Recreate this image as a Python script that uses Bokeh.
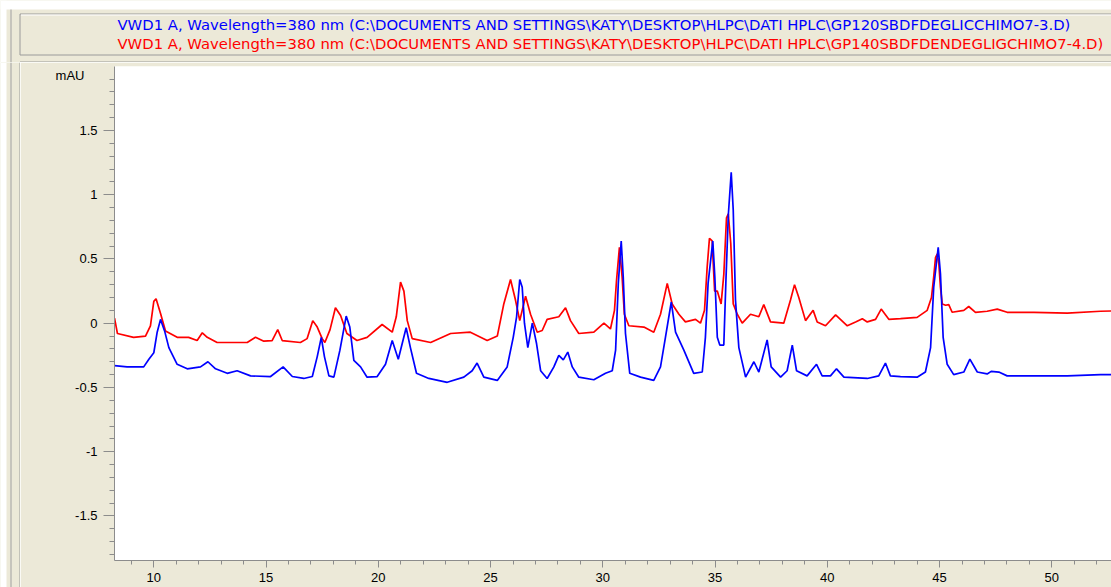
from bokeh.plotting import figure
from bokeh.layouts import column, row
from bokeh.models import FixedTicker, CustomJSTickFormatter, LinearAxis, Range1d
from bokeh.core.properties import value
from bokeh.embed import file_html
from bokeh.resources import INLINE

# ---- data (retention time in min, signal in mAU) ----
red_t = [8.25, 8.38, 9.1, 9.63, 9.85, 10.0, 10.1, 10.3, 10.52, 11.04, 11.55, 11.93, 12.16, 12.38, 12.82,
         13.56, 14.16, 14.53, 14.9, 15.27, 15.52, 15.72, 16.53, 16.83, 17.08, 17.28, 17.5, 17.62, 17.85,
         18.09, 18.32, 18.6, 19.05, 19.5, 20.17, 20.62, 20.8, 20.99, 21.14, 21.29, 21.51, 22.33, 23.22,
         24.1, 24.85, 25.3, 25.59, 25.89, 26.11, 26.3, 26.56, 26.78, 27.08, 27.3, 27.52, 28.04, 28.34,
         28.56, 28.93, 29.6, 30.05, 30.34, 30.52, 30.61, 30.74, 30.86, 30.96, 31.16, 31.83, 32.27, 32.57,
         32.87, 33.09, 33.39, 33.68, 34.13, 34.35, 34.53, 34.65, 34.75, 34.87, 34.98, 35.1, 35.27, 35.39,
         35.51, 35.59, 35.7, 35.81, 35.99, 36.21, 36.58, 36.95, 37.17, 37.47, 38.06, 38.36, 38.54, 38.73,
         39.03, 39.37, 39.55, 39.92, 40.37, 40.89, 41.26, 41.56, 41.78, 42.15, 42.4, 42.74, 43.26, 44.0,
         44.45, 44.64, 44.74, 44.82, 44.9, 44.97, 45.04, 45.12, 45.27, 45.41, 45.56, 46.08, 46.3, 46.6,
         47.12, 47.57, 48.01, 49.2, 50.69, 52.17, 52.66]
red_y = [0.04, -0.08, -0.11, -0.10, -0.02, 0.17, 0.19, 0.075, -0.06, -0.11, -0.11, -0.135, -0.075, -0.11, -0.15,
         -0.15, -0.15, -0.11, -0.14, -0.135, -0.05, -0.135, -0.15, -0.12, 0.02, -0.03, -0.12, -0.15, -0.05,
         0.12, 0.06, -0.08, -0.135, -0.11, -0.01, -0.07, 0.05, 0.32, 0.25, 0.02, -0.12, -0.15, -0.08,
         -0.07, -0.135, -0.10, 0.15, 0.34, 0.18, 0.02, 0.21, 0.07, -0.07, -0.057, 0.03, 0.05, 0.12,
         0.02, -0.08, -0.07, 0.0, -0.045, 0.10, 0.33, 0.59, 0.36, 0.07, -0.02, -0.03, -0.07, 0.07,
         0.31, 0.15, 0.07, 0.01, 0.03, 0.0, 0.10, 0.44, 0.66, 0.64, 0.25, 0.25, 0.15, 0.38,
         0.82, 0.85, 0.62, 0.15, 0.07, 0.0, 0.07, 0.05, 0.145, 0.01, 0.0, 0.18, 0.30, 0.20,
         0.02, 0.10, 0.01, -0.02, 0.065, -0.02, 0.01, 0.035, 0.01, 0.03, 0.11, 0.03, 0.035, 0.045,
         0.10, 0.20, 0.36, 0.51, 0.54, 0.46, 0.28, 0.15, 0.14, 0.145, 0.085, 0.10, 0.13, 0.085,
         0.093, 0.11, 0.085, 0.085, 0.078, 0.093, 0.095]

blue_t = [8.25, 8.81, 9.55, 9.78, 10.0, 10.15, 10.3, 10.48, 10.67, 11.04, 11.49, 12.08, 12.41, 12.75, 13.27,
          13.71, 14.31, 15.2, 15.76, 16.17, 16.68, 17.06, 17.28, 17.46, 17.6, 17.8, 18.02, 18.29, 18.57,
          18.73, 18.91, 19.21, 19.5, 19.95, 20.32, 20.62, 20.89, 21.24, 21.43, 21.7, 22.25, 23.07, 23.81,
          24.18, 24.4, 24.7, 25.3, 25.74, 26.01, 26.16, 26.3, 26.41, 26.51, 26.66, 26.86, 27.05, 27.23,
          27.52, 27.82, 28.04, 28.24, 28.44, 28.64, 28.93, 29.6, 30.12, 30.42, 30.57, 30.69, 30.82, 30.91,
          31.01, 31.2, 31.68, 32.27, 32.57, 32.79, 33.05, 33.24, 33.61, 34.05, 34.43, 34.57, 34.69, 34.9,
          34.99, 35.1, 35.21, 35.39, 35.48, 35.59, 35.72, 35.81, 35.91, 36.06, 36.36, 36.73, 36.95, 37.32,
          37.5, 37.92, 38.21, 38.44, 38.63, 39.1, 39.52, 39.77, 40.14, 40.41, 40.74, 41.78, 42.29, 42.59,
          42.81, 43.26, 44.0, 44.37, 44.6, 44.74, 44.94, 45.04, 45.16, 45.34, 45.63, 46.08, 46.35, 46.68,
          47.12, 47.3, 47.64, 48.01, 49.2, 50.69, 52.17, 52.66]
blue_y = [-0.33, -0.34, -0.34, -0.28, -0.23, -0.07, 0.03, -0.06, -0.19, -0.32, -0.355, -0.34, -0.30, -0.355, -0.39,
          -0.37, -0.41, -0.415, -0.34, -0.415, -0.43, -0.415, -0.26, -0.11, -0.26, -0.41, -0.42, -0.21, 0.055,
          -0.03, -0.29, -0.34, -0.42, -0.415, -0.32, -0.135, -0.28, -0.035, -0.19, -0.39, -0.43, -0.46, -0.42,
          -0.37, -0.31, -0.42, -0.445, -0.34, -0.11, 0.05, 0.34, 0.28, 0.0, -0.19, 0.0, -0.16, -0.37,
          -0.43, -0.34, -0.25, -0.285, -0.225, -0.34, -0.42, -0.44, -0.39, -0.37, -0.21, 0.31, 0.64, 0.36,
          -0.08, -0.39, -0.42, -0.445, -0.34, -0.11, 0.165, -0.07, -0.21, -0.39, -0.38, -0.11, 0.31, 0.64,
          0.36, -0.11, -0.17, -0.17, 0.31, 0.84, 1.175, 0.88, 0.18, -0.19, -0.42, -0.30, -0.38, -0.13,
          -0.34, -0.42, -0.37, -0.17, -0.37, -0.41, -0.32, -0.41, -0.41, -0.355, -0.42, -0.43, -0.41, -0.31,
          -0.41, -0.415, -0.42, -0.38, -0.19, 0.28, 0.59, 0.385, -0.11, -0.32, -0.40, -0.38, -0.28, -0.38,
          -0.395, -0.375, -0.38, -0.41, -0.41, -0.41, -0.40, -0.40]

x_major_ticks = [10, 15, 20, 25, 30, 35, 40, 45, 50]
x_minor_ticks = [9, 11, 12, 13, 14, 16, 17, 18, 19, 21, 22, 23, 24, 26, 27, 28, 29, 31, 32, 33, 34,
                 36, 37, 38, 39, 41, 42, 43, 44, 46, 47, 48, 49, 51, 52]
y_major_ticks = [-1.5, -1.0, -0.5, 0.0, 0.5, 1.0, 1.5, 2.0]
y_minor_ticks = [-1.8, -1.7, -1.6, -1.4, -1.3, -1.2, -1.1, -0.9, -0.8, -0.7, -0.6, -0.4, -0.3, -0.2, -0.1,
                 0.1, 0.2, 0.3, 0.4, 0.6, 0.7, 0.8, 0.9, 1.1, 1.2, 1.3, 1.4, 1.6, 1.7, 1.8, 1.9]
y_unit = "mAU"
legend_texts = ["VWD1 A, Wavelength=380 nm (C:\\DOCUMENTS AND SETTINGS\\KATY\\DESKTOP\\HLPC\\DATI HPLC\\GP120SBDFDEGLICCHIMO7-3.D)",
                "VWD1 A, Wavelength=380 nm (C:\\DOCUMENTS AND SETTINGS\\KATY\\DESKTOP\\HLPC\\DATI HPLC\\GP140SBDFDENDEGLIGCHIMO7-4.D)"]
legend_colors = ["#0000FF", "#FF0000"]

BEIGE = "#ECE9D8"
GRAY = "#9A9A9A"
FONT = "Liberation Sans"
HEAD_FONT = "DejaVu Sans"
W = 1111
HH = 62            # header strip height
MH = 587 - HH      # main chart height
SW = 20            # left chrome strip width


def no_align(fig):
    try:
        fig.frame_align = False
    except Exception:
        pass


def chrome(fig):
    fig.title.visible = False
    fig.outline_line_color = None
    fig.background_fill_color = BEIGE
    fig.border_fill_color = BEIGE
    fig.xgrid.visible = False
    fig.ygrid.visible = False
    no_align(fig)


# ---------------- header strip (pixel coordinates, y downwards) ----------------
h = figure(width=W, height=HH, output_backend="svg", toolbar_location=None,
           x_range=Range1d(0, W), y_range=Range1d(HH, 0), x_axis_type=None, y_axis_type=None,
           min_border_left=0, min_border_right=0, min_border_top=0, min_border_bottom=0)
chrome(h)
h.quad(left=[0, 0], right=[W, 6], top=[0, 0], bottom=[9, HH], fill_color="white", line_alpha=0)
h.quad(left=[10], right=[11], top=[9], bottom=[HH], fill_color="#A0A0A0", line_alpha=0)
h.segment(x0=[19.5, 19.5, 19.5, 20.5, 19.5, 19.5], y0=[13.5, 13.5, 54.5, 14.5, 61.5, 61.5],
          x1=[W, 19.5, W, W, W, 19.5], y1=[13.5, 54.5, 54.5, 14.5, 61.5, HH],
          line_color=[GRAY, GRAY, GRAY, "white", GRAY, GRAY], line_width=1)
h.text(x=[117, 117], y=[24, 43], text=legend_texts, text_color=legend_colors,
       text_font=value(HEAD_FONT), text_font_size="14.8px", text_baseline="middle", text_align="left")

# ---------------- left chrome strip ----------------
s = figure(width=SW, height=MH, output_backend="svg", toolbar_location=None,
           x_range=Range1d(0, SW), y_range=Range1d(MH, 0), x_axis_type=None, y_axis_type=None,
           min_border_left=0, min_border_right=0, min_border_top=0, min_border_bottom=0)
chrome(s)
s.quad(left=[0, 10], right=[6, 11], top=[0, 0], bottom=[MH, MH],
       fill_color=["white", "#A0A0A0"], line_alpha=0)
s.segment(x0=[19.5], y0=[0], x1=[19.5], y1=[MH], line_color=GRAY, line_width=1)

# ---------------- main chart ----------------
FL, FT, FR, FB = 114 - SW, 66 - HH, W - SW, 560 - HH
X0, X1, Y0, Y1 = 8.249, 52.659, -1.8467, 1.9977
unit_pos = Y1 - (75 - 66) * (Y1 - Y0) / (560 - 66)

p = figure(width=W - SW, height=MH, output_backend="svg", toolbar_location=None,
           x_range=Range1d(X0, X1), y_range=Range1d(Y0, Y1),
           min_border_left=FL, min_border_top=FT, min_border_bottom=MH - FB, min_border_right=(W - SW) - FR)
p.title.visible = False
p.background_fill_color = "white"
p.border_fill_color = BEIGE
p.outline_line_color = None
p.xgrid.visible = False
p.ygrid.visible = False
no_align(p)

p.line(red_t, red_y, line_color="#FF0000", line_width=1.7)
p.line(blue_t, blue_y, line_color="#0000FF", line_width=1.7)

for ax in (p.xaxis[0], p.yaxis[0]):
    ax.axis_line_color = "#8C8C8C"
    ax.major_tick_line_color = "#8C8C8C"
    ax.minor_tick_line_color = "#8C8C8C"
    ax.major_tick_in = 0
    ax.minor_tick_in = 0
    ax.major_label_text_font = FONT
    ax.major_label_text_font_size = "13px"
    ax.major_label_text_color = "black"

p.xaxis.ticker = FixedTicker(ticks=x_major_ticks, minor_ticks=x_minor_ticks)
p.xaxis.major_tick_out = 7
p.xaxis.minor_tick_out = 4
p.xaxis.major_label_standoff = 5

p.yaxis.ticker = FixedTicker(ticks=y_major_ticks, minor_ticks=y_minor_ticks)
p.yaxis.major_tick_out = 11
p.yaxis.minor_tick_out = 5
p.yaxis.major_label_standoff = 6
p.yaxis.formatter = CustomJSTickFormatter(
    code="if (tick > 1.95) { return ''; } return String(Math.round(tick * 10) / 10);")

# unit label ("mAU") as an extra, line-less left axis
ua = LinearAxis(ticker=FixedTicker(ticks=[unit_pos], minor_ticks=[]),
                formatter=CustomJSTickFormatter(code="return '%s';" % y_unit),
                axis_line_color=None, major_tick_line_color=None, minor_tick_line_color=None,
                major_tick_in=0, major_tick_out=0, minor_tick_in=0, minor_tick_out=0,
                major_label_standoff=-12, major_label_text_font=FONT,
                major_label_text_font_size="13px", major_label_text_color="black")
p.add_layout(ua, "left")

layout = column(h, row(s, p, spacing=0), spacing=0)
open("out.html", "w").write(file_html(layout, INLINE))
